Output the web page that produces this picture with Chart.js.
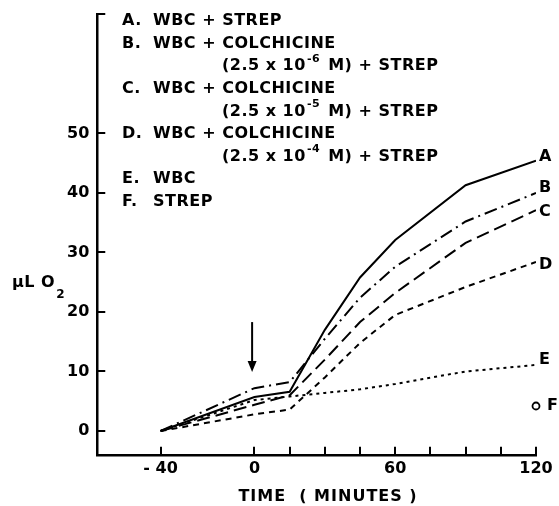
<!DOCTYPE html>
<html><head><meta charset="utf-8">
<script src="https://cdn.jsdelivr.net/npm/chart.js@4"></script>
<style>html,body{margin:0;padding:0;background:#fff}#wrap{width:559px;height:506px}</style>
</head><body><div id="wrap"><canvas id="c" width="559" height="506"></canvas></div>
<script>
// ---- data ----
const times   = [-40, 0, 15, 30, 45, 60, 90, 120];
const seriesA = [0, 5.7, 6.6, 17.0, 25.8, 32.1, 41.3, 45.4];
const seriesB = [0, 7.2, 8.2, 15.5, 22.4, 27.6, 35.2, 40.0];
const seriesC = [0, 4.4, 6.0, 12.0, 18.3, 23.2, 31.6, 37.1];
const seriesD = [0, 2.8, 3.6, 9.0, 14.8, 19.5, 24.2, 28.4];
const seriesE = [0, 5.2, 5.8, 6.4, 7.0, 7.9, 10.0, 11.1];
const timesF  = [120];
const seriesF = [4.2];
const curveLetters = ['A', 'B', 'C', 'D', 'E', 'F'];
const curveLabelValues = [46.1, 40.9, 36.9, 27.9, 12.0, 4.2];
const xTickValues = [-40, 0, 15, 30, 45, 60, 75, 90, 105, 120];
const xTickLabels = {'-40': '- 40', '0': '0', '60': '60', '120': '120'};
const yTickValues = [0, 10, 20, 30, 40, 50, 70];
const yTickLabels = {'0': '0', '10': '10', '20': '20', '30': '30', '40': '40', '50': '50'};
const legendLetters = ['A.', 'B.', 'C.', 'D.', 'E.', 'F.'];
const legendNames = ['WBC + STREP', 'WBC + COLCHICINE', 'WBC + COLCHICINE', 'WBC + COLCHICINE', 'WBC', 'STREP'];
const legendExponents = ['', '-6', '-5', '-4', '', ''];
const arrowTime = -1, arrowFrom = 18.3, arrowTo = 9.9;
const xTitle = 'TIME  ( MINUTES )';
const yTitle = 'μL O';
const yTitleSub = '2';

const FONT = '"DejaVu Sans", sans-serif';
const toXY = (xs, ys) => xs.map((x, i) => ({x: x, y: ys[i]}));
const lineDs = (data, dash) => ({
  data: data, borderColor: '#000', borderWidth: 2, borderDash: dash,
  pointRadius: 0, fill: false, tension: 0, borderCapStyle: 'butt'
});

const decor = {
  id: 'decor',
  afterDraw(chart) {
    const ctx = chart.ctx, xs = chart.scales.x, ys = chart.scales.y;
    const area = chart.chartArea;
    ctx.save();
    ctx.strokeStyle = '#000'; ctx.fillStyle = '#000'; ctx.lineWidth = 2;
    // inward ticks
    xTickValues.forEach(v => {
      const px = Math.round(xs.getPixelForValue(v));
      ctx.beginPath(); ctx.moveTo(px, area.bottom); ctx.lineTo(px, area.bottom - 8); ctx.stroke();
    });
    yTickValues.forEach(v => {
      const py = Math.round(ys.getPixelForValue(v));
      ctx.beginPath(); ctx.moveTo(area.left, py); ctx.lineTo(area.left + 8, py); ctx.stroke();
    });
    // arrow
    const ax = xs.getPixelForValue(arrowTime);
    const ay1 = ys.getPixelForValue(arrowFrom), ay2 = ys.getPixelForValue(arrowTo);
    ctx.beginPath(); ctx.moveTo(ax, ay1); ctx.lineTo(ax, ay2 - 6); ctx.stroke();
    ctx.beginPath(); ctx.moveTo(ax - 4.5, ay2 - 11); ctx.lineTo(ax + 4.5, ay2 - 11); ctx.lineTo(ax, ay2); ctx.closePath(); ctx.fill();
    // text
    ctx.textBaseline = 'middle';
    ctx.font = 'bold 16px ' + FONT;
    ctx.letterSpacing = '0.5px';
    // curve letters at right
    curveLetters.forEach((L, i) => {
      const px = xs.getPixelForValue(120) + (L === 'F' ? 11 : 3);
      ctx.textAlign = 'left';
      ctx.fillText(L, px, ys.getPixelForValue(curveLabelValues[i]));
    });
    // legend
    let row = 0;
    const y0 = 21, step = 22.6;
    legendLetters.forEach((L, i) => {
      const y = y0 + step * row;
      ctx.font = 'bold 16px ' + FONT;
      ctx.textAlign = 'left';
      ctx.fillText(L, 122, y);
      ctx.fillText(legendNames[i], 153, y);
      row++;
      if (legendExponents[i]) {
        const y2 = y0 + step * row;
        let x = 222;
        const p1 = '(2.5 x 10';
        ctx.fillText(p1, x, y2); x += ctx.measureText(p1).width + 1;
        ctx.font = 'bold 11px ' + FONT;
        ctx.fillText(legendExponents[i], x, y2 - 7); x += ctx.measureText(legendExponents[i]).width + 2;
        ctx.font = 'bold 16px ' + FONT;
        ctx.fillText(' M) + STREP', x, y2);
        row++;
      }
    });
    // y title
    ctx.font = 'bold 16px ' + FONT;
    ctx.textAlign = 'left';
    ctx.fillText(yTitle, 12, 283);
    const w = ctx.measureText(yTitle).width;
    ctx.font = 'bold 12px ' + FONT;
    ctx.fillText(yTitleSub, 12 + w + 1, 295);
    // x title
    ctx.font = 'bold 16px ' + FONT;
    ctx.letterSpacing = '1px';
    ctx.textAlign = 'center';
    ctx.fillText(xTitle, 328, 497);
    ctx.restore();
  }
};

new Chart(document.getElementById('c'), {
  type: 'line',
  data: {
    datasets: [
      lineDs(toXY(times, seriesA), []),
      lineDs(toXY(times, seriesB), [13, 5, 2, 5]),
      lineDs(toXY(times, seriesC), [13, 6]),
      lineDs(toXY(times, seriesD), [6, 5]),
      lineDs(toXY(times, seriesE), [3, 4]),
      {data: toXY(timesF, seriesF), showLine: false, pointRadius: 3.5, pointStyle: 'circle', clip: false,
       pointBorderWidth: 1.8, pointBackgroundColor: '#fff', pointBorderColor: '#000', borderColor: '#000'}
    ]
  },
  options: {
    responsive: false, animation: false, devicePixelRatio: 1,
    layout: {padding: {left: 59, top: 13, right: 23, bottom: 24}},
    plugins: {legend: {display: false}, tooltip: {enabled: false}},
    scales: {
      x: {
        type: 'linear', min: -67, max: 120,
        afterBuildTicks: s => { s.ticks = xTickValues.map(v => ({value: v})); },
        ticks: {autoSkip: false, maxRotation: 0, padding: 4, color: '#000',
                font: {family: FONT, size: 16, weight: 'bold'},
                callback: v => (xTickLabels[String(v)] !== undefined ? xTickLabels[String(v)] : '')},
        grid: {display: false, drawTicks: false},
        border: {display: true, color: '#000', width: 2.5}
      },
      y: {
        type: 'linear', min: -4, max: 70,
        afterBuildTicks: s => { s.ticks = yTickValues.map(v => ({value: v})); },
        ticks: {autoSkip: false, padding: 8, color: '#000',
                font: {family: FONT, size: 16, weight: 'bold', lineHeight: 0.8},
                callback: v => (yTickLabels[String(v)] !== undefined ? yTickLabels[String(v)] : '')},
        grid: {display: false, drawTicks: false},
        border: {display: true, color: '#000', width: 2.5}
      }
    }
  },
  plugins: [decor]
});
</script>
</body></html>
